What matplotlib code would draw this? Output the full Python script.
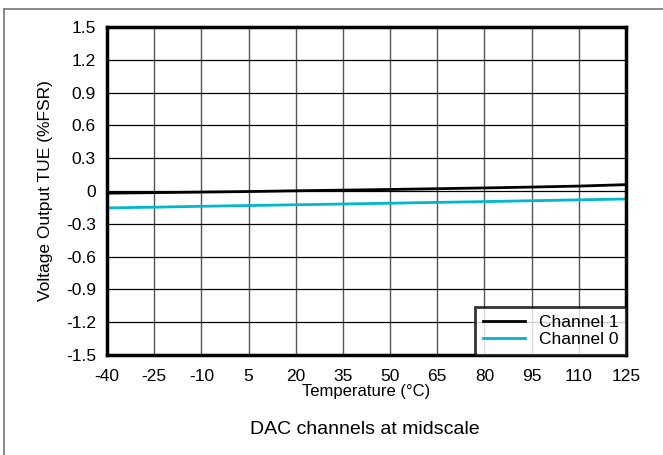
import numpy as np
import matplotlib.pyplot as plt
from matplotlib.lines import Line2D

plt.rcParams['font.family'] = ['Liberation Sans', 'DejaVu Sans']
plt.rcParams['axes.unicode_minus'] = False

# temperature points (degC) and TUE (%FSR)
temperature = [-40, -25, -10, 5, 20, 35, 50, 65, 80, 95, 110, 125]
channel_1 = [-0.020, -0.015, -0.010, -0.005, 0.002, 0.008, 0.014, 0.021, 0.028, 0.036, 0.045, 0.058]
channel_0 = [-0.155, -0.148, -0.140, -0.133, -0.126, -0.119, -0.112, -0.104, -0.097, -0.089, -0.081, -0.073]

x_ticks = [-40, -25, -10, 5, 20, 35, 50, 65, 80, 95, 110, 125]
y_ticks = [-1.5, -1.2, -0.9, -0.6, -0.3, 0, 0.3, 0.6, 0.9, 1.2, 1.5]
y_tick_labels = ['-1.5', '-1.2', '-0.9', '-0.6', '-0.3', '0', '0.3', '0.6', '0.9', '1.2', '1.5']

fig = plt.figure(figsize=(6.63, 4.55), dpi=100)
ax = fig.add_axes([107 / 663, 1 - 355 / 455, 519 / 663, 328 / 455])

ax.plot(temperature, channel_1, color='black', lw=2, label='Channel 1')
ax.plot(temperature, channel_0, color='#00b7cc', lw=2, label='Channel 0')

ax.set_xlim(-40, 125)
ax.set_ylim(-1.5, 1.5)
ax.set_xticks(x_ticks)
ax.set_yticks(y_ticks)
ax.set_yticklabels(y_tick_labels)
ax.tick_params(length=0, labelsize=12.5)
ax.tick_params(axis='y', pad=8)
ax.tick_params(axis='x', pad=10)

# vertical grid grey-ish, horizontal black
ax.xaxis.grid(True, color='#555555', lw=1)
ax.yaxis.grid(True, color='black', lw=0.9)
for s in ax.spines.values():
    s.set_linewidth(2.5)

ax.set_xlabel('Temperature (°C)', fontsize=12, labelpad=0)
ax.set_ylabel('Voltage Output TUE (%FSR)', fontsize=12.5, labelpad=9)

leg = ax.legend(loc='lower right', fontsize=12.5, frameon=True, fancybox=False,
                borderaxespad=0, handlelength=2.4, borderpad=0.45, labelspacing=0.1,
                handletextpad=0.8)
leg.get_frame().set_edgecolor('black')
leg.get_frame().set_linewidth(2)

fig.text(365 / 663, 1 - 434 / 455, 'DAC channels at midscale', ha='center', va='baseline', fontsize=14)

# frame lines of the original figure box
fig.add_artist(Line2D([3.5 / 663, 3.5 / 663], [0, 1 - 9 / 455], color='#777777', lw=1.2))
fig.add_artist(Line2D([3.5 / 663, 1], [1 - 9 / 455, 1 - 9 / 455], color='#777777', lw=1.2))

fig.savefig('out.png', dpi=100)
